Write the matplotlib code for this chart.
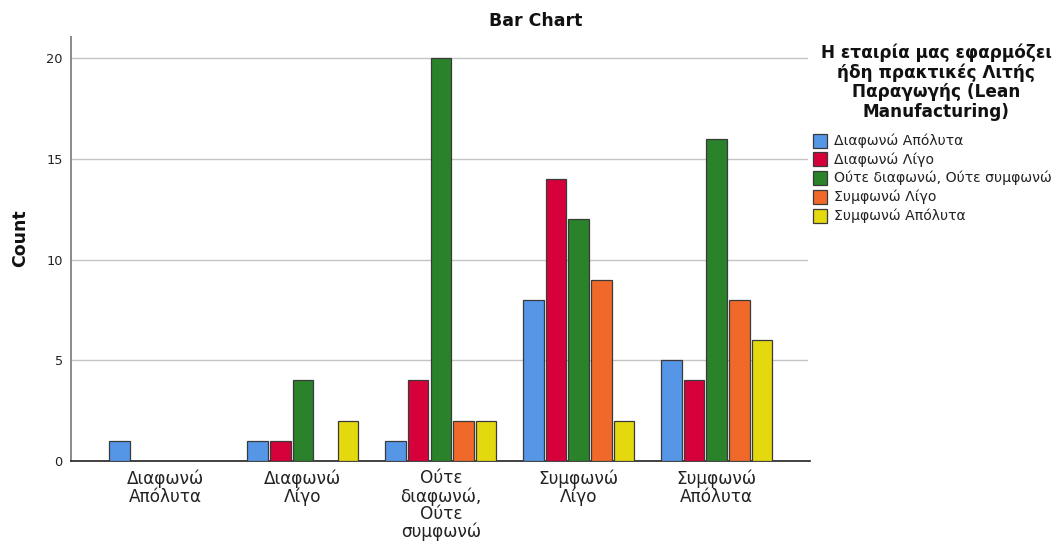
import matplotlib
matplotlib.use("Agg")
import matplotlib.pyplot as plt
from matplotlib.patches import Rectangle
import numpy as np

plt.rcParams['font.family'] = ['DejaVu Sans']

# Categories on the x axis (answer to the row question)
categories = ["Διαφωνώ\nΑπόλυτα", "Διαφωνώ\nΛίγο", "Ούτε\nδιαφωνώ,\nΟύτε\nσυμφωνώ",
              "Συμφωνώ\nΛίγο", "Συμφωνώ\nΑπόλυτα"]

# Series: answers to "Lean Manufacturing" question
series_names = ["Διαφωνώ Απόλυτα", "Διαφωνώ Λίγο", "Ούτε διαφωνώ, Ούτε συμφωνώ",
                "Συμφωνώ Λίγο", "Συμφωνώ Απόλυτα"]
counts_diafono_apolyta = [1, 1, 1, 8, 5]
counts_diafono_ligo = [0, 1, 4, 14, 4]
counts_oute = [0, 4, 20, 12, 16]
counts_symfono_ligo = [0, 0, 2, 9, 8]
counts_symfono_apolyta = [0, 2, 2, 2, 6]
series_values = [counts_diafono_apolyta, counts_diafono_ligo, counts_oute,
                 counts_symfono_ligo, counts_symfono_apolyta]
colors = ["#5596E6", "#D6003A", "#2A832A", "#F0692A", "#E4D80F"]

y_ticks = [0, 5, 10, 15, 20]

W, H = 1058, 544
fig = plt.figure(figsize=(W / 100, H / 100), dpi=100)
ax = fig.add_axes([71 / W, 83 / H, (808 - 71) / W, (461 - 37) / H])

x = np.arange(len(categories))
step = 0.1638
width = 0.1486
for i, (vals, col) in enumerate(zip(series_values, colors)):
    offs = (i - 2) * step
    xs = [xi + offs for xi, v in zip(x, vals) if v > 0]
    hs = [v for v in vals if v > 0]
    ax.bar(xs, hs, width=width, color=col, edgecolor="#3a3a3a", linewidth=0.9, zorder=3)

ax.set_xlim(-0.681, 4.662)
ax.set_ylim(0, 21.05)
ax.set_yticks(y_ticks)
ax.set_yticklabels([str(t) for t in y_ticks], fontsize=9.3, color="#222222")
ax.set_xticks(x)
ax.set_xticklabels(categories, fontsize=12.2, color="#222222", linespacing=0.98)
ax.tick_params(axis='both', length=0)
ax.tick_params(axis='y', pad=6)
ax.tick_params(axis='x', pad=6)

ax.yaxis.grid(True, color="#c4c4c4", linewidth=1.0, zorder=0)
ax.set_axisbelow(True)
for s in ["top", "right"]:
    ax.spines[s].set_visible(False)
ax.spines["left"].set_color("#8a8a8a")
ax.spines["left"].set_linewidth(1.4)
ax.spines["bottom"].set_color("#222222")
ax.spines["bottom"].set_linewidth(1.2)
ax.spines["bottom"].set_bounds(-0.681, 4.68)

fig.text(536 / W, 1 - 21 / H, "Bar Chart", ha="center", va="center",
         fontsize=12.5, fontweight="bold", color="#111111")
fig.text(20 / W, 1 - 238 / H, "Count", ha="center", va="center", rotation=90,
         fontsize=12.5, fontweight="bold", color="#111111")

# Legend: title block and colour keys
fig.text(936 / W, 1 - 82 / H,
         "Η εταιρία μας εφαρμόζει\nήδη πρακτικές Λιτής\nΠαραγωγής (Lean\nManufacturing)",
         ha="center", va="center", fontsize=12.2, fontweight="bold",
         color="#111111", linespacing=1.1)
for k, (name, col) in enumerate(zip(series_names, colors)):
    yc = 140.5 + k * 18.8
    fig.patches.append(Rectangle((813 / W, 1 - (yc + 7) / H), 14 / W, 14 / H,
                                 transform=fig.transFigure, facecolor=col,
                                 edgecolor="#3a3a3a", linewidth=0.9))
    fig.text(834 / W, 1 - yc / H, name, ha="left", va="center",
             fontsize=10.1, color="#222222")

fig.savefig("out.png", dpi=100)
